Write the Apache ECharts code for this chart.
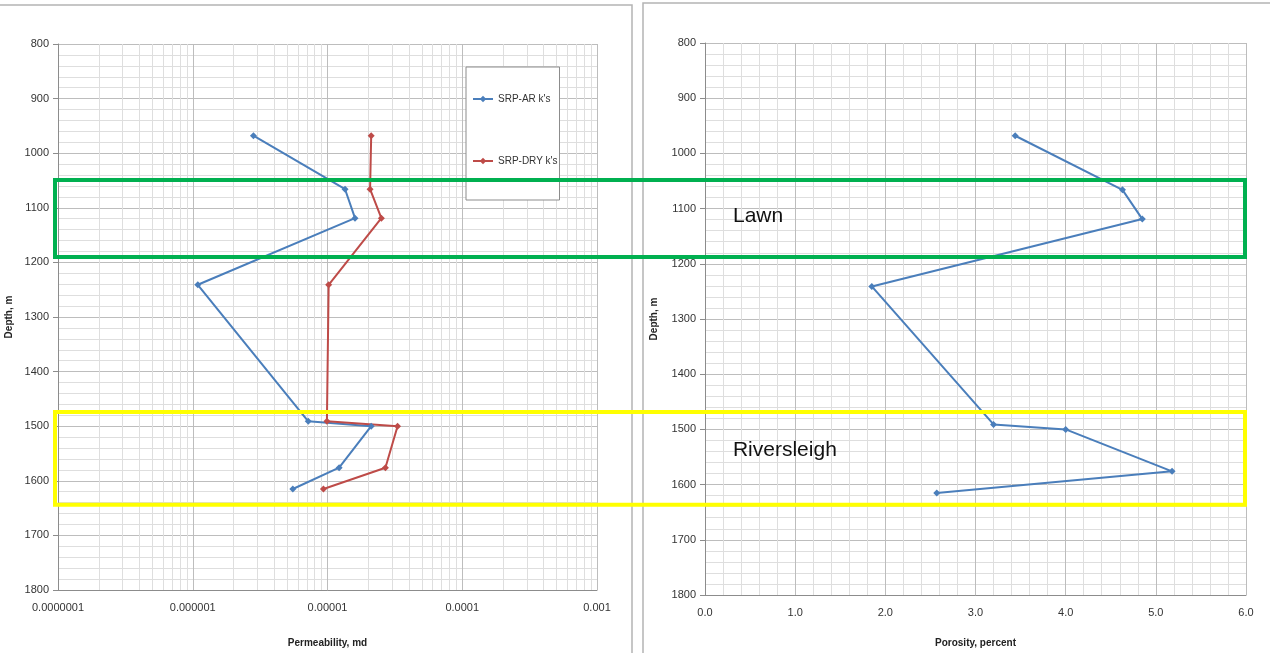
<!DOCTYPE html>
<html>
<head>
<meta charset="utf-8">
<title>Depth profiles: permeability and porosity</title>
<script src="https://cdn.jsdelivr.net/npm/echarts@6/dist/echarts.min.js"></script>
<style>
  html, body { margin: 0; padding: 0; background: #fff; }
  #chart { width: 1270px; height: 653px; }
</style>
</head>
<body>
<div id="chart"></div>
<script>
// Sample depths (m) shared by both panels
const depths = [968, 1066, 1119, 1241, 1491, 1500, 1576, 1615];
// Permeability (md), as-received and dry
const arPerm = [2.82e-6, 1.35e-5, 1.60e-5, 1.09e-6, 7.2e-6, 2.11e-5, 1.22e-5, 5.53e-6];
const dryPerm = [2.11e-5, 2.07e-5, 2.51e-5, 1.02e-5, 9.9e-6, 3.31e-5, 2.69e-5, 9.33e-6];
// Porosity (percent)
const porosity = [3.44, 4.63, 4.85, 1.85, 3.20, 4.00, 5.18, 2.57];

// Tick labels
const permTickLabels = ['0.0000001', '0.000001', '0.00001', '0.0001', '0.001'];
const seriesNames = ["SRP-AR k's", "SRP-DRY k's"];

// Formation intervals (depth range, m) and where their names sit
const zoneNames = ['Lawn', 'Riversleigh'];
const zoneTop = [1049, 1474];
const zoneBase = [1190, 1644];
const zoneLabelDepth = [1114, 1537];
const zoneLabelPorosity = 0.31;
const zoneColors = ['#00b050', '#ffff00'];

// Minor decade lines (2..9 x 10^n) for the log permeability axis
const logMinor = [];
for (let e = -7; e < -3; e++) {
  for (let m = 2; m <= 9; m++) logMinor.push(m * Math.pow(10, e));
}

const tickFont = "'Liberation Sans Narrow', 'Liberation Sans', sans-serif";
const BLUE = '#4a7ebb';
const RED = '#be4b48';
const MAJOR = '#bdbdbd';
const MINOR = '#dedede';
const AXIS = '#8c8c8c';

const depthAxis = (gridIndex, gap) => ({
  type: 'value', gridIndex, inverse: true, min: 800, max: 1800, interval: 100,
  name: 'Depth, m', nameLocation: 'middle', nameGap: gap, nameRotate: 90,
  nameTextStyle: { fontFamily: 'Liberation Sans', fontWeight: 'bold', fontSize: 10, color: '#222' },
  axisLine: { show: true, lineStyle: { color: AXIS } },
  axisTick: { show: true, length: 5, lineStyle: { color: AXIS } },
  axisLabel: { fontFamily: tickFont, fontSize: 11, color: '#333', margin: 9, formatter: v => String(v) },
  splitLine: { show: true, lineStyle: { color: MAJOR, width: 1 } },
  minorTick: { show: false, splitNumber: 5 },
  minorSplitLine: { show: true, lineStyle: { color: MINOR, width: 1 } }
});

const chart = echarts.init(document.getElementById('chart'));

chart.setOption({
  animation: false,
  backgroundColor: '#fff',
  grid: [
    { left: 58, top: 44, width: 539, height: 552 },
    { left: 705, top: 43, width: 541, height: 561 }
  ],
  legend: {
    data: seriesNames,
    orient: 'vertical',
    left: 466, top: 67,
    itemGap: 52,
    itemWidth: 20, itemHeight: 8,
    padding: [27, 2, 34, 6],
    backgroundColor: '#fff',
    borderColor: '#8c8c8c', borderWidth: 1,
    textStyle: { fontFamily: tickFont, fontSize: 10, color: '#333' }
  },
  xAxis: [
    {
      type: 'log', gridIndex: 0, min: 1e-7, max: 1e-3, logBase: 10, interval: 1,
      name: 'Permeability, md', nameLocation: 'middle', nameGap: 48,
      nameTextStyle: { fontFamily: 'Liberation Sans', fontWeight: 'bold', fontSize: 10, color: '#222' },
      axisLine: { show: true, lineStyle: { color: AXIS } },
      axisTick: { show: false },
      axisLabel: {
        fontFamily: tickFont, fontSize: 11, color: '#333', margin: 12,
        formatter: v => permTickLabels[Math.round(Math.log10(v)) + 7]
      },
      splitLine: { show: true, lineStyle: { color: MAJOR, width: 1 } }
    },
    {
      type: 'value', gridIndex: 1, min: 0, max: 6, interval: 1,
      name: 'Porosity, percent', nameLocation: 'middle', nameGap: 43,
      nameTextStyle: { fontFamily: 'Liberation Sans', fontWeight: 'bold', fontSize: 10, color: '#222' },
      axisLine: { show: true, lineStyle: { color: AXIS } },
      axisTick: { show: false },
      axisLabel: { fontFamily: tickFont, fontSize: 11, color: '#333', margin: 12, formatter: v => v.toFixed(1) },
      splitLine: { show: true, lineStyle: { color: MAJOR, width: 1 } },
      minorTick: { show: false, splitNumber: 5 },
      minorSplitLine: { show: true, lineStyle: { color: MINOR, width: 1 } }
    }
  ],
  yAxis: [depthAxis(0, 44), depthAxis(1, 46)],
  series: [
    {
      // minor log grid lines (2..9 per decade) of the permeability panel
      name: 'minor', type: 'custom', xAxisIndex: 0, yAxisIndex: 0, silent: true, z: 0,
      data: logMinor.map(v => [v]),
      renderItem: (params, api) => {
        const a = api.coord([api.value(0), 800]);
        const b = api.coord([api.value(0), 1800]);
        return {
          type: 'line', silent: true,
          shape: { x1: Math.round(a[0]) + 0.5, y1: a[1], x2: Math.round(b[0]) + 0.5, y2: b[1] },
          style: { stroke: MINOR, lineWidth: 1 }
        };
      }
    },
    {
      name: seriesNames[0], type: 'line', xAxisIndex: 0, yAxisIndex: 0,
      data: arPerm.map((v, i) => [v, depths[i]]),
      color: BLUE, symbol: 'diamond', symbolSize: 7,
      lineStyle: { width: 2, color: BLUE }, itemStyle: { color: BLUE }, z: 3
    },
    {
      name: seriesNames[1], type: 'line', xAxisIndex: 0, yAxisIndex: 0,
      data: dryPerm.map((v, i) => [v, depths[i]]),
      color: RED, symbol: 'diamond', symbolSize: 7,
      lineStyle: { width: 2, color: RED }, itemStyle: { color: RED }, z: 3
    },
    {
      name: 'Porosity', type: 'line', xAxisIndex: 1, yAxisIndex: 1,
      data: porosity.map((v, i) => [v, depths[i]]),
      color: BLUE, symbol: 'diamond', symbolSize: 7,
      lineStyle: { width: 2, color: BLUE }, itemStyle: { color: BLUE }, z: 3
    }
  ]
});

// Panel frames and formation boxes spanning both panels
const xLeft = chart.convertToPixel({ xAxisIndex: 0 }, 1e-7) - 3;
const xRight = chart.convertToPixel({ xAxisIndex: 1 }, 6) - 1;
const graphics = [
  { type: 'rect', silent: true, z: 0, shape: { x: -2, y: 5, width: 634, height: 660 },
    style: { fill: null, stroke: '#b4b4b4', lineWidth: 1.5 } },
  { type: 'rect', silent: true, z: 0, shape: { x: 643, y: 3, width: 640, height: 660 },
    style: { fill: null, stroke: '#b4b4b4', lineWidth: 1.5 } }
];
zoneNames.forEach((name, i) => {
  const y0 = chart.convertToPixel({ yAxisIndex: 0 }, zoneTop[i]);
  const y1 = chart.convertToPixel({ yAxisIndex: 0 }, zoneBase[i]);
  graphics.push({
    type: 'rect', silent: true, z: 100,
    shape: { x: xLeft, y: y0, width: xRight - xLeft, height: y1 - y0 },
    style: { fill: null, stroke: zoneColors[i], lineWidth: 4 }
  });
  const tx = chart.convertToPixel({ xAxisIndex: 1 }, zoneLabelPorosity);
  const ty = chart.convertToPixel({ yAxisIndex: 1 }, zoneLabelDepth[i]);
  graphics.push({
    type: 'text', silent: true, z: 100, x: tx, y: ty,
    style: { text: name, fontFamily: "'Liberation Sans Narrow', 'Liberation Sans', sans-serif",
      fontSize: 21, fill: '#111', verticalAlign: 'middle', align: 'left' }
  });
});
chart.setOption({ graphic: graphics });
</script>
</body>
</html>
